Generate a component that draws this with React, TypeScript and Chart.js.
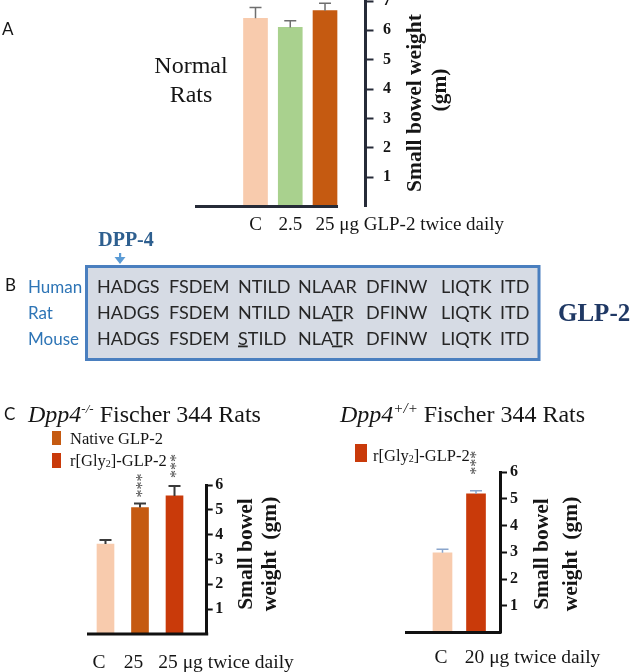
import React, { useEffect, useRef } from "react";
import { Chart, registerables } from "chart.js";

Chart.register(...registerables);

// ---------------- Data ----------------
// Panel A – Normal rats
const aCategories = ["C", "2.5", "25"];
const aSuffix = " μg GLP-2 twice daily";
const aValues = [6.41, 6.1, 6.67];
const aErrors = [0.37, 0.23, 0.25];
const aTicks = [1, 2, 3, 4, 5, 6, 7];

// Panel C left – Dpp4-/- rats
const cLeftCategories = ["C", "25", "25"];
const cLeftSuffix = " μg twice daily";
const cLeftValues = [3.62, 5.09, 5.56];
const cLeftErrors = [0.17, 0.17, 0.4];
const cLeftSignificance = ["", "***", "***"];

// Panel C right – Dpp4+/+ rats
const cRightCategories = ["C", "20"];
const cRightSuffix = " μg twice daily";
const cRightValues = [2.98, 5.18];
const cRightErrors = [0.13, 0.12];
const cRightSignificance = ["", "***"];
const cTicks = [1, 2, 3, 4, 5, 6];

// Panel B – sequences
const speciesNames = ["Human", "Rat", "Mouse"];
const humanSeq = ["HADGS", "FSDEM", "NTILD", "NLAAR", "DFINW", "LIQTK", "ITD"];
const ratSeq = ["HADGS", "FSDEM", "NTILD", "NLATR", "DFINW", "LIQTK", "ITD"];
const mouseSeq = ["HADGS", "FSDEM", "STILD", "NLATR", "DFINW", "LIQTK", "ITD"];
const humanUnderline: number[][] = [];
const ratUnderline = [[3, 3]];
const mouseUnderline = [[2, 0], [3, 3]];

// ---------------- Styles ----------------
const PEACH = "#f8cbad";
const GREEN = "#a9d18e";
const ORANGE = "#c55a11";
const RED = "#c93a0a";
const SERIF = "'Liberation Serif', 'Times New Roman', serif";
const SANS = "Lato, 'Open Sans', sans-serif";

const decorPlugin = {
  id: "decor",
  afterDatasetsDraw(chart: any, _args: any, o: any) {
    const { ctx, chartArea } = chart;
    const ys = chart.scales.y;
    const meta = chart.getDatasetMeta(0);
    const ds = chart.data.datasets[0];
    const y0 = ys.getPixelForValue(0);
    const bars = meta.data;
    const last = bars.length - 1;
    ctx.save();
    // baseline
    const lb = bars[last];
    const xEnd = o.baselineToAxis ? chartArea.right + 1.5 : lb.x + lb.width / 2 + 1;
    ctx.strokeStyle = o.axisColor;
    ctx.lineWidth = 3;
    ctx.beginPath();
    ctx.moveTo(chartArea.left, y0);
    ctx.lineTo(xEnd, y0);
    ctx.stroke();
    bars.forEach((bar: any, i: number) => {
      const v = ds.data[i].y;
      const top = ys.getPixelForValue(v + o.errors[i]);
      ctx.strokeStyle = o.errColor;
      ctx.lineWidth = o.errWidth;
      ctx.beginPath();
      ctx.moveTo(bar.x, bar.y);
      ctx.lineTo(bar.x, top);
      ctx.moveTo(bar.x - o.capHalf, top);
      ctx.lineTo(bar.x + o.capHalf, top);
      ctx.stroke();
      const s = o.significance ? o.significance[i] : "";
      if (s) {
        ctx.save();
        ctx.translate(bar.x + o.starShift, top - o.starGap[i]);
        ctx.rotate(-Math.PI / 2);
        ctx.font = `${o.starSize}px ${SERIF}`;
        ctx.fillStyle = "#4a4a4a";
        ctx.textAlign = "left";
        ctx.textBaseline = "alphabetic";
        ctx.fillText(s, 0, o.starSize * 0.46);
        ctx.restore();
      }
      ctx.font = `${o.labelSize}px ${SERIF}`;
      ctx.fillStyle = "#151515";
      ctx.textBaseline = "alphabetic";
      const lx = bar.x + o.labelShift;
      const ly = y0 + o.labelOffset;
      const label = o.categories[i];
      ctx.textAlign = "center";
      ctx.fillText(label, lx, ly);
      if (i === last && o.suffix) {
        const w = ctx.measureText(label).width;
        ctx.textAlign = "left";
        ctx.fillText(o.suffix, lx + w / 2, ly);
      }
    });
    ctx.restore();
  },
};

function buildConfig(p: any): any {
  return {
    type: "bar",
    data: {
      datasets: [
        {
          data: p.values.map((v: number, i: number) => ({ x: i, y: v })),
          backgroundColor: p.colors,
          barThickness: p.barThickness,
          borderWidth: 0,
        },
      ],
    },
    options: {
      animation: false,
      responsive: false,
      maintainAspectRatio: false,
      events: [],
      layout: { padding: p.padding },
      plugins: {
        legend: { display: false },
        tooltip: { enabled: false },
        decor: {
          categories: p.categories,
          suffix: p.suffix,
          errors: p.errors,
          errColor: p.errColor,
          errWidth: p.errWidth,
          capHalf: 6,
          significance: p.significance,
          starGap: p.starGap,
          starShift: p.starShift,
          starSize: 16,
          labelSize: p.labelSize,
          labelShift: p.labelShift,
          labelOffset: p.labelOffset,
          axisColor: p.axisColor,
          baselineToAxis: p.baselineToAxis,
        },
      },
      scales: {
        x: { type: "linear", display: false, offset: false, min: p.xMin, max: p.xMax },
        y: {
          position: "right",
          min: 0,
          max: p.yMax,
          afterFit: (s: any) => {
            s.width = p.yWidth;
            s.paddingTop = 0;
            s.paddingBottom = 0;
            s.paddingLeft = 0;
            s.paddingRight = 0;
          },
          afterBuildTicks: (s: any) => {
            s.ticks = p.ticks.map((v: number) => ({ value: v }));
          },
          grid: {
            drawOnChartArea: false,
            drawTicks: true,
            tickLength: p.tickLength,
            tickWidth: 2,
            tickColor: p.axisColor,
            color: p.axisColor,
          },
          border: { display: true, color: p.axisColor, width: 3 },
          ticks: {
            font: { family: SERIF, size: p.tickSize, weight: "bold" },
            color: "#151515",
            padding: p.tickPadding,
          },
        },
      },
    },
    plugins: [decorPlugin],
  };
}

const panelA = {
  categories: aCategories, suffix: aSuffix, values: aValues, errors: aErrors, ticks: aTicks,
  colors: [PEACH, GREEN, ORANGE], barThickness: 24, errColor: "#6f6f6f", errWidth: 1.5,
  significance: null, starGap: [], starShift: 0,
  labelSize: 19, labelShift: 0, labelOffset: 23.5,
  axisColor: "#262b38", baselineToAxis: false,
  padding: { left: 15, top: 1, bottom: 33.5, right: 0 }, yWidth: 144.5,
  xMin: -1.741, xMax: 3.165, yMax: 7, tickLength: 8, tickPadding: 9.5, tickSize: 16,
};

const panelCLeft = {
  categories: cLeftCategories, suffix: cLeftSuffix, values: cLeftValues, errors: cLeftErrors, ticks: cTicks,
  colors: [PEACH, ORANGE, RED], barThickness: 17, errColor: "#3a3a3a", errWidth: 2,
  significance: cLeftSignificance, starGap: [0, 6, 8], starShift: -0.5,
  labelSize: 19.5, labelShift: -6.5, labelOffset: 34,
  axisColor: "#111111", baselineToAxis: true,
  padding: { left: 27, top: 45, bottom: 38, right: 0 }, yWidth: 93.3,
  xMin: -0.536, xMax: 2.933, yMax: 6, tickLength: 6, tickPadding: 2.5, tickSize: 16,
};

const panelCRight = {
  categories: cRightCategories, suffix: cRightSuffix, values: cRightValues, errors: cRightErrors, ticks: cTicks,
  colors: [PEACH, RED], barThickness: 19, errColor: "#8aa5cc", errWidth: 1.5,
  significance: cRightSignificance, starGap: [0, 16], starShift: -2.5,
  labelSize: 19.5, labelShift: -1.5, labelOffset: 30.5,
  axisColor: "#111111", baselineToAxis: true,
  padding: { left: 15, top: 32, bottom: 39.5, right: 0 }, yWidth: 135,
  xMin: -1.119, xMax: 1.716, yMax: 6, tickLength: 7, tickPadding: 3, tickSize: 16,
};

function BarPanel({ spec, left, top, width, height }: any) {
  const ref = useRef<HTMLCanvasElement>(null);
  useEffect(() => {
    if (!ref.current) return;
    const chart = new Chart(ref.current, buildConfig(spec));
    return () => chart.destroy();
  }, [spec]);
  return (
    <canvas
      ref={ref}
      width={width}
      height={height}
      style={{ position: "absolute", left, top, width, height }}
    />
  );
}

const wordX = [97, 169, 238, 298, 366, 441, 500];
const rowBaselines = [293, 318.5, 344.5];

function SeqRow({ words, underline, y }: any) {
  return (
    <>
      {words.map((w: string, wi: number) => {
        const u = underline.filter((p: number[]) => p[0] === wi).map((p: number[]) => p[1]);
        return (
          <text key={wi} x={wordX[wi]} y={y} fontFamily={SANS} fontSize={18} fill="#262626">
            {w.split("").map((ch, ci) => (
              <tspan key={ci} style={u.includes(ci) ? { textDecoration: "underline" } : undefined}>
                {ch}
              </tspan>
            ))}
          </text>
        );
      })}
    </>
  );
}

function Title({ x, sup, supSize }: any) {
  return (
    <text x={x} y={422} fontFamily={SERIF} fontSize={24} fill="#151515">
      <tspan fontStyle="italic">Dpp4</tspan>
      <tspan fontStyle="italic" fontSize={supSize} dy={-9}>{sup}</tspan>
      <tspan dy={9}>{"\u00a0Fischer 344 Rats"}</tspan>
    </text>
  );
}

function GlyLabel({ x, y }: any) {
  return (
    <text x={x} y={y} fontFamily={SERIF} fontSize={16.5} fill="#151515">
      r[Gly<tspan fontSize={10} dy={1}>2</tspan><tspan dy={-1}>]-GLP-2</tspan>
    </text>
  );
}

export default function App() {
  const rotTitle = { fontFamily: SERIF, fontSize: 21.5, fontWeight: "bold" as const, fill: "#151515", textAnchor: "middle" as const };
  const seqs = [humanSeq, ratSeq, mouseSeq];
  const unders = [humanUnderline, ratUnderline, mouseUnderline];
  return (
    <div style={{ position: "fixed", left: 0, top: 0, width: 635, height: 672, background: "#ffffff", overflow: "hidden" }}>
      <BarPanel spec={panelA} left={180} top={0} width={330} height={240} />
      <BarPanel spec={panelCLeft} left={60} top={440} width={240} height={232} />
      <BarPanel spec={panelCRight} left={390} top={440} width={245} height={232} />
      <svg width={635} height={672} style={{ position: "absolute", left: 0, top: 0, pointerEvents: "none" }}>
        {/* Panel A */}
        <text x={2} y={35} fontFamily={SANS} fontSize={17} fill="#151515">A</text>
        <text x={191} y={73} textAnchor="middle" fontFamily={SERIF} fontSize={24} fill="#151515">Normal</text>
        <text x={191} y={102} textAnchor="middle" fontFamily={SERIF} fontSize={24} fill="#151515">Rats</text>
        <text transform="translate(421,103) rotate(-90)" {...rotTitle}>Small bowel weight</text>
        <text transform="translate(446,90) rotate(-90)" {...rotTitle}>(gm)</text>

        {/* Panel B */}
        <text x={5} y={291} fontFamily={SANS} fontSize={17} fill="#151515">B</text>
        <text x={126} y={246} textAnchor="middle" fontFamily={SERIF} fontSize={20} fontWeight="bold" fill="#2e5f8f">DPP-4</text>
        <rect x={119} y={253} width={2.2} height={5} fill="#5b9bd5" />
        <polygon points="114.5,257 125.5,257 120,264" fill="#5b9bd5" />
        <rect x={86.5} y={266.5} width={452.5} height={93} fill="#d6dbe4" stroke="#4a7fbf" strokeWidth={3} />
        {speciesNames.map((n, i) => (
          <text key={n} x={28} y={rowBaselines[i]} fontFamily={SANS} fontSize={17} fill="#2e75b6">{n}</text>
        ))}
        {seqs.map((s, i) => (
          <SeqRow key={i} words={s} underline={unders[i]} y={rowBaselines[i]} />
        ))}
        <text x={558} y={321} fontFamily={SERIF} fontSize={25} fontWeight="bold" fill="#1f3864">GLP-2</text>

        {/* Panel C */}
        <text x={4} y={420} fontFamily={SANS} fontSize={17} fill="#151515">C</text>
        <Title x={28} sup="-/-" supSize={13} />
        <Title x={340} sup="+/+" supSize={15} />
        <rect x={52} y={431} width={9} height={14} fill={ORANGE} />
        <text x={70} y={444} fontFamily={SERIF} fontSize={16.5} fill="#151515">Native GLP-2</text>
        <rect x={52} y={453} width={9} height={15} fill={RED} />
        <GlyLabel x={70} y={466} />
        <rect x={355} y={444} width={12} height={18} fill={RED} />
        <GlyLabel x={373} y={461} />
        <text transform="translate(252,554) rotate(-90)" {...rotTitle}>Small bowel</text>
        <text transform="translate(276,554) rotate(-90)" {...rotTitle}>{"weight\u00a0 (gm)"}</text>
        <text transform="translate(548,554) rotate(-90)" {...rotTitle}>Small bowel</text>
        <text transform="translate(577,554) rotate(-90)" {...rotTitle}>{"weight\u00a0 (gm)"}</text>
      </svg>
    </div>
  );
}
